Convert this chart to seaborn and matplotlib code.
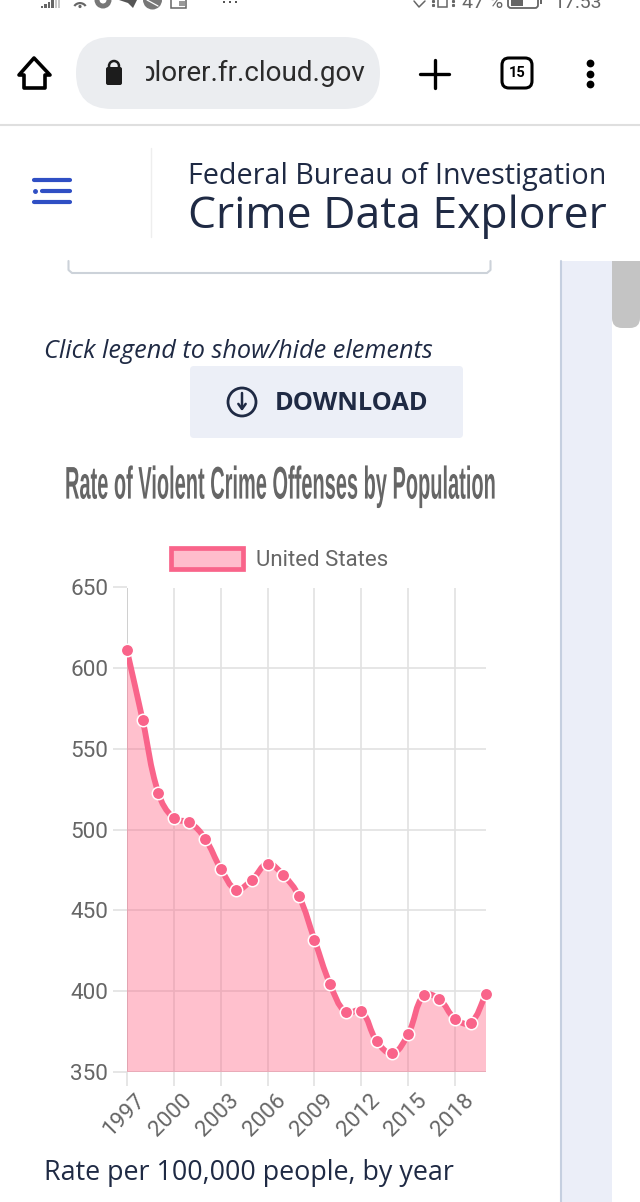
import matplotlib
matplotlib.use('Agg')
import matplotlib.pyplot as plt
import matplotlib.patheffects as pe
from matplotlib.patches import Circle, FancyBboxPatch, Patch, PathPatch, Polygon, Rectangle, Wedge
from matplotlib.path import Path
from matplotlib.transforms import Affine2D, ScaledTranslation
import pandas as pd
import seaborn as sns

years = list(range(1997, 2021))
rates = [611, 568, 523, 507, 504.5, 494.5, 476, 463, 469, 479, 472, 459,
         432, 404.5, 387, 387.8, 369, 361.5, 373.5, 397.5, 395, 383, 380.5, 398.5]
tick_years = [1997, 2000, 2003, 2006, 2009, 2012, 2015, 2018]
y_ticks = [350, 400, 450, 500, 550, 600, 650]

PINK = '#f9648a'
FILL = '#ffbdcc'
NAVY = '#1f2a44'
GRID = '#e2e2e2'
TICK_TEXT = '#666666'
STATUS = '#666666'


class Squash(pe.AbstractPathEffect):
    # the title in the screenshot is stretched tall and thin
    def __init__(self, sx, sy, x0, y0):
        super().__init__()
        self.sx = sx
        self.sy = sy
        self.x0 = x0
        self.y0 = y0

    def draw_path(self, renderer, gc, tpath, affine, rgbFace=None):
        squash = Affine2D().translate(-self.x0, -self.y0).scale(self.sx, self.sy).translate(self.x0, self.y0)
        renderer.draw_path(gc, tpath, affine + squash, rgbFace)


def smooth_path(xs, ys, sx, sy, tension=0.4):
    # same bezier spline as chart.js, worked out in pixel space
    px = [x * sx for x in xs]
    py = [y * sy for y in ys]
    n = len(px)
    verts = [(xs[0], ys[0])]
    codes = [Path.MOVETO]
    ctrl = []
    for i in range(n):
        a = max(i - 1, 0)
        b = min(i + 1, n - 1)
        d0 = ((px[i] - px[a]) ** 2 + (py[i] - py[a]) ** 2) ** 0.5
        d1 = ((px[b] - px[i]) ** 2 + (py[b] - py[i]) ** 2) ** 0.5
        total = d0 + d1
        f0 = tension * d0 / total
        f1 = tension * d1 / total
        dx = xs[b] - xs[a]
        dy = ys[b] - ys[a]
        ctrl.append(((xs[i] - f0 * dx, ys[i] - f0 * dy), (xs[i] + f1 * dx, ys[i] + f1 * dy)))
    for i in range(1, n):
        verts += [ctrl[i - 1][1], ctrl[i][0], (xs[i], ys[i])]
        codes += [Path.CURVE4, Path.CURVE4, Path.CURVE4]
    return verts, codes


sns.set_theme(style='white')
plt.rcParams['font.family'] = ['Open Sans', 'DejaVu Sans']

fig = plt.figure(figsize=(6.4, 12.02), dpi=100, facecolor='white')

# page furniture, drawn in screenshot pixels
page = fig.add_axes([0, 0, 1, 1])
page.set_xlim(0, 640)
page.set_ylim(1202, 0)
page.axis('off')


def box(x0, y0, x1, y1, r, **kw):
    p = FancyBboxPatch((x0 + r, y0 + r), x1 - x0 - 2 * r, y1 - y0 - 2 * r,
                       boxstyle=f'round,pad={r},rounding_size={r}', **kw)
    page.add_patch(p)
    return p


# status bar, cut off by the top of the screenshot
for i, h in enumerate([2, 4, 6, 8, 8, 8]):
    page.add_patch(Rectangle((41 + i * 3.4, 8 - h), 2.4, h, color=STATUS if i < 4 else '#c8c8c8', lw=0))
page.add_patch(Wedge((80, 10), 8, 215, 325, width=2.2, color=STATUS, lw=0))
page.add_patch(Circle((80, 6.5), 1.6, color=STATUS, lw=0))
page.add_patch(Circle((103, 0), 8.5, fc='#777777', ec='none'))
page.add_patch(Circle((103, 0), 3.5, fc='white', ec='none'))
page.add_patch(Polygon([(119, 0), (137, 0), (133, 8), (128, 3)], closed=True, color='#555555', lw=0))
page.add_patch(Circle((152.5, 0), 9.5, fc='#777777', ec='none'))
page.plot([147, 158], [0, 6], color='white', lw=0.9)
page.add_patch(Rectangle((171, -2), 15, 9.5, fc='white', ec=STATUS, lw=1.1))
page.add_patch(Rectangle((179, 1), 6, 5, color='#999999', lw=0))
page.plot([224, 230, 236], [1.5, 1.5, 1.5], ls='', marker='s', ms=2, mew=0, color='#555555')
page.plot([414, 419, 425], [1, 7, 1], color=STATUS, lw=1.1)
page.add_patch(Rectangle((438, -3), 9, 10, fc='white', ec=STATUS, lw=1.1))
page.plot([433, 433, 453, 453], [1, 5, 1, 5], ls='', marker='s', ms=1.2, color=STATUS)
page.text(462, 8, '47 %', fontsize=14, color=STATUS, family='Roboto', va='baseline')
box(508, -8, 538, 8, 3, fc='white', ec=STATUS, lw=1.3)
page.add_patch(Rectangle((511, -2), 12, 8, color=STATUS, lw=0))
page.add_patch(Rectangle((540, -2), 2, 6, color=STATUS, lw=0))
page.text(553, 8, '17:53', fontsize=14, color=STATUS, family='Roboto', va='baseline')

# browser toolbar
page.add_patch(Polygon([(34, 58), (50, 75), (45, 75), (45, 88), (24, 88), (24, 75), (19, 75)],
                       closed=True, fc='none', ec='black', lw=2.6, joinstyle='round'))
box(76, 37, 380, 109, 36, fc='#ebedf0', ec='none')
box(106, 67, 122, 85, 2, fc='#1c1c1c', ec='none')
page.add_patch(Circle((114, 66), 5, fc='none', ec='#1c1c1c', lw=1.8))
url = page.text(365, 73, 'plorer.fr.cloud.gov', fontsize=20, color='#2b2b2b', family='Roboto',
                ha='right', va='center', clip_on=True)
url.set_clip_path(Rectangle((146, 40), 230, 66, transform=page.transData))
page.plot([420, 449], [74, 74], color='black', lw=2.4, solid_capstyle='round')
page.plot([434.5, 434.5], [60, 88], color='black', lw=2.4, solid_capstyle='round')
box(502, 58, 532, 88, 7, fc='white', ec='black', lw=2.2)
page.text(517, 73, '15', fontsize=10.5, fontweight='bold', color='black', family='Roboto',
          ha='center', va='center')
page.plot([590, 590, 590], [63, 74, 84], ls='', marker='o', ms=5.6, color='black', mew=0)
page.plot([0, 640], [125, 125], color='#dfdfdf', lw=1.5)

# site header
page.plot([151, 151], [148, 237], color='#eeeeee', lw=1)
for y, x0 in [(180, 34), (191, 42), (202, 34)]:
    page.plot([x0, 70], [y, y], color='#2f4fc4', lw=3, solid_capstyle='round')
page.plot([35], [191], marker='o', ms=2.5, color='#2f4fc4')
page.text(188, 176.5, 'Federal Bureau of Investigation', fontsize=20.7, color=NAVY, va='center')
page.text(188, 217, 'Crime Data Explorer', fontsize=32, color=NAVY, va='center')

# sidebar and scrollbar
page.add_patch(Rectangle((561, 261), 51, 941, fc='#ebeef8', ec='none'))
page.plot([561, 561], [261, 1202], color='#c5cfe0', lw=1.5)
thumb = box(612, 240, 640, 328, 10, fc='#c4c4c4', ec='none')
thumb.set_clip_path(Rectangle((612, 261), 28, 70, transform=page.transData))
page.plot([68.5, 68.5, 72, 487, 490.5, 490.5], [261, 270, 273, 273, 270, 261], color='#ccd2d9', lw=1.5)

page.text(44, 351, 'Click legend to show/hide elements', fontsize=18.2, style='italic',
          color=NAVY, va='center')
box(190, 366, 463, 438, 4, fc='#ecEff7', ec='none')
page.add_patch(Circle((242, 402), 14, fc='none', ec=NAVY, lw=2))
page.annotate('', xy=(242, 411), xytext=(242, 393),
              arrowprops=dict(arrowstyle='->,head_width=0.22,head_length=0.3', color=NAVY, lw=1.8, shrinkA=0, shrinkB=0))
page.text(275, 403, 'DOWNLOAD', fontsize=18.3, fontweight='bold', color=NAVY, va='center')

title = page.text(280, 486, 'Rate of Violent Crime Offenses by Population', fontsize=14.4, fontweight='bold',
                  color='#666666', ha='center', va='center',
                  family=['Liberation Sans Narrow', 'Liberation Sans'])
title.set_path_effects([Squash(1.0, 2.29, 280, 1202 - 486)])

page.text(44, 1173, 'Rate per 100,000 people, by year', fontsize=19.35, color=NAVY, va='center')

# the chart itself
ax = fig.add_axes([127 / 640, (1202 - 1072) / 1202, (486.2 - 127) / 640, (1072 - 587.5) / 1202])
ax.patch.set_alpha(0)
ax.set_xlim(1997, 2020)
ax.set_ylim(350, 650)

df = pd.DataFrame({'year': years, 'rate': rates})
sx = (486.2 - 127) / (2020 - 1997)
sy = (1072 - 587.5) / (650 - 350)
verts, codes = smooth_path(years, rates, sx, sy)

area_verts = verts + [(years[-1], 350), (years[0], 350), (years[0], rates[0])]
area_codes = codes + [Path.LINETO, Path.LINETO, Path.CLOSEPOLY]
ax.add_patch(PathPatch(Path(area_verts, area_codes), fc='#ff6384', alpha=0.4, ec='none', zorder=2))
ax.add_patch(PathPatch(Path(verts, codes), fc='none', ec=PINK, lw=4.2, zorder=3, capstyle='round'))
sns.scatterplot(data=df, x='year', y='rate', ax=ax, s=80, color=PINK, edgecolor='white',
                linewidth=1.1, zorder=4, clip_on=False)

ax.set_xticks(tick_years)
ax.set_yticks(y_ticks)
ax.set_xlabel('')
ax.set_ylabel('')
ax.grid(True, color=GRID, lw=1.2)
ax.set_axisbelow(True)
for s in ax.spines.values():
    s.set_visible(False)
ax.axvline(1997, color='#cccccc', lw=1.2, zorder=1)
ax.axhline(350, color='#dcdcdc', lw=1.4, zorder=1)
ax.tick_params(axis='both', length=10, width=1.2, color=GRID, labelcolor=TICK_TEXT, left=True, bottom=True)
ax.tick_params(axis='y', pad=3.5)
ax.tick_params(axis='x', pad=3)
ax.set_yticklabels([str(v) for v in y_ticks], fontsize=16.2, family='Roboto')
ax.set_xticklabels([str(v) for v in tick_years], fontsize=16.2, family='Roboto', rotation=45,
                   ha='right', rotation_mode='anchor')
nudge = ScaledTranslation(0.08, 0, fig.dpi_scale_trans)
for lab in ax.get_xticklabels():
    lab.set_transform(lab.get_transform() + nudge)

handle = Patch(fc=FILL, ec=PINK, lw=3.4, label='United States')
fig.legend(handles=[handle], loc='center', bbox_to_anchor=(279.5 / 640, (1202 - 559.5) / 1202), frameon=False,
           handlelength=3.25, handleheight=1.05, handletextpad=0.55, labelcolor=TICK_TEXT,
           prop={'family': 'Roboto', 'size': 16})

fig.savefig('out.png', dpi=100)
